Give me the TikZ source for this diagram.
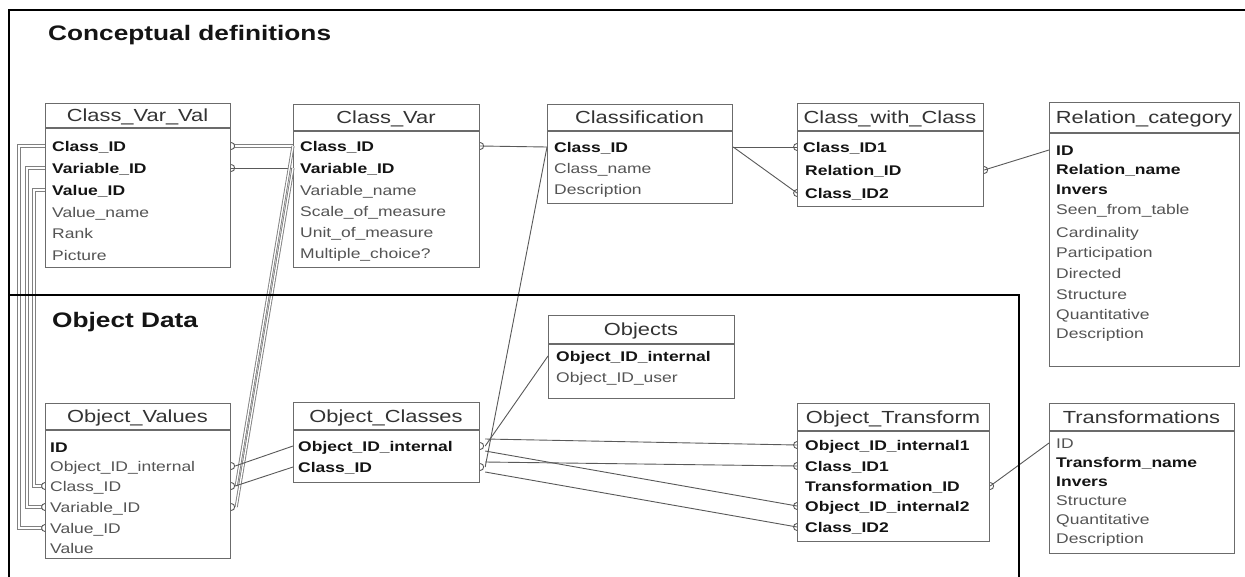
\documentclass[tikz,border=0pt]{standalone}
\usepackage{fontspec}
\setmainfont{Liberation Sans}[FakeStretch=1.25]
\usetikzlibrary{calc}
\definecolor{bord}{gray}{0.42}
\definecolor{lc}{gray}{0.35}
\definecolor{lc2}{gray}{0.5}
\definecolor{hd}{gray}{0.2}
\definecolor{rg}{gray}{0.33}
\definecolor{bd}{gray}{0.08}
\tikzset{
 tbox/.style={draw=bord,line width=1.2pt,inner sep=0pt,anchor=north west},
 hline/.style={draw=bord,line width=1.2pt},
 hdr/.style={font=\fontsize{17.5}{18}\selectfont,text=hd,inner sep=0pt,text height=12.5pt,text depth=0pt},
 rb/.style={font=\fontsize{14}{15}\selectfont\bfseries,text=bd,inner sep=0pt,anchor=west,text height=10pt,text depth=0pt},
 rr/.style={font=\fontsize{14}{15}\selectfont,text=rg,inner sep=0pt,anchor=west,text height=10pt,text depth=0pt},
 ttl/.style={font=\fontsize{21}{22}\selectfont\bfseries,text=bd,inner sep=0pt,anchor=west,text height=15pt,text depth=0pt},
 frame/.style={draw=black,line width=2pt},
 conn/.style={draw=lc,line width=0.9pt},
 dbl/.style={draw=lc2,line width=0.9pt,double=white,double distance=1.3pt},
 mk/.style={draw=lc,line width=0.9pt},
 mR/.pic={\draw[mk] (0,-3.5) .. controls (4.5,-3.5) and (4.5,3.5) .. (0,3.5);},
 mL/.pic={\draw[mk] (0,-3.5) .. controls (-4.5,-3.5) and (-4.5,3.5) .. (0,3.5);},
}
\begin{document}
\begin{tikzpicture}[x=1pt,y=-1pt]
\useasboundingbox[fill=white] (0,0) rectangle (1245,576);

% titles
\node[ttl] (t1) at (48,33) {Conceptual definitions};
\node[ttl] (t2) at (52,320) {Object Data};

% Class_Var_Val
\node[tbox,minimum width=185pt,minimum height=164pt] (cvv) at (45,103) {};
\draw[hline] (45,128) -- (230,128);
\node[hdr] (cvvh) at (137.5,115.5) {Class\_Var\_Val};
\node[rb] (cvv1) at (52,146) {Class\_ID};
\node[rb] (cvv2) at (52,168) {Variable\_ID};
\node[rb] (cvv3) at (52,190) {Value\_ID};
\node[rr] (cvv4) at (52,212) {Value\_name};
\node[rr] (cvv5) at (52,233) {Rank};
\node[rr] (cvv6) at (52,255) {Picture};

% Class_Var
\node[tbox,minimum width=186pt,minimum height=163pt] (cv) at (293,104) {};
\draw[hline] (293,131) -- (479,131);
\node[hdr] (cvh) at (386,117.5) {Class\_Var};
\node[rb] (cv1) at (300,146) {Class\_ID};
\node[rb] (cv2) at (300,168) {Variable\_ID};
\node[rr] (cv3) at (300,190) {Variable\_name};
\node[rr] (cv4) at (300,211) {Scale\_of\_measure};
\node[rr] (cv5) at (300,232) {Unit\_of\_measure};
\node[rr] (cv6) at (300,253) {Multiple\_choice?};

% Classification
\node[tbox,minimum width=185pt,minimum height=99pt] (cls) at (547,104) {};
\draw[hline] (547,131) -- (732,131);
\node[hdr] (clsh) at (639.5,117.5) {Classification};
\node[rb] (cls1) at (554,147) {Class\_ID};
\node[rr] (cls2) at (554,168) {Class\_name};
\node[rr] (cls3) at (554,189) {Description};

% Class_with_Class
\node[tbox,minimum width=186pt,minimum height=103pt] (cwc) at (797,103) {};
\draw[hline] (797,131) -- (983,131);
\node[hdr] (cwch) at (890,117) {Class\_with\_Class};
\node[rb] (cwc1) at (803,147) {Class\_ID1};
\node[rb] (cwc2) at (805,170) {Relation\_ID};
\node[rb] (cwc3) at (805,193) {Class\_ID2};

% Relation_category
\node[tbox,minimum width=190pt,minimum height=264pt] (rc) at (1049,102) {};
\draw[hline] (1049,133) -- (1239,133);
\node[hdr] (rch) at (1144,117.5) {Relation\_category};
\node[rb] (rc1) at (1056,150) {ID};
\node[rb] (rc2) at (1056,169) {Relation\_name};
\node[rb] (rc3) at (1056,189) {Invers};
\node[rr] (rc4) at (1056,209) {Seen\_from\_table};
\node[rr] (rc5) at (1056,232) {Cardinality};
\node[rr] (rc6) at (1056,252) {Participation};
\node[rr] (rc7) at (1056,273) {Directed};
\node[rr] (rc8) at (1056,294) {Structure};
\node[rr] (rc9) at (1056,314) {Quantitative};
\node[rr] (rc10) at (1056,333) {Description};

% Objects
\node[tbox,minimum width=186pt,minimum height=83pt] (obj) at (548,315) {};
\draw[hline] (548,344) -- (734,344);
\node[hdr] (objh) at (641,329.5) {Objects};
\node[rb] (obj1) at (556,356) {Object\_ID\_internal};
\node[rr] (obj2) at (556,377) {Object\_ID\_user};

% Object_Values
\node[tbox,minimum width=185pt,minimum height=155pt] (ov) at (45,403) {};
\draw[hline] (45,430) -- (230,430);
\node[hdr] (ovh) at (137.5,416.5) {Object\_Values};
\node[rb] (ov1) at (50,447) {ID};
\node[rr] (ov2) at (50,466) {Object\_ID\_internal};
\node[rr] (ov3) at (50,486) {Class\_ID};
\node[rr] (ov4) at (50,507) {Variable\_ID};
\node[rr] (ov5) at (50,528) {Value\_ID};
\node[rr] (ov6) at (50,548) {Value};

% Object_Classes
\node[tbox,minimum width=186pt,minimum height=80pt] (oc) at (293,402) {};
\draw[hline] (293,430) -- (479,430);
\node[hdr] (och) at (386,416) {Object\_Classes};
\node[rb] (oc1) at (298,446) {Object\_ID\_internal};
\node[rb] (oc2) at (298,467) {Class\_ID};

% Object_Transform
\node[tbox,minimum width=192pt,minimum height=138pt] (ot) at (797,403) {};
\draw[hline] (797,431) -- (989,431);
\node[hdr] (oth) at (893,417) {Object\_Transform};
\node[rb] (ot1) at (805,445) {Object\_ID\_internal1};
\node[rb] (ot2) at (805,466) {Class\_ID1};
\node[rb] (ot3) at (805,486) {Transformation\_ID};
\node[rb] (ot4) at (805,506) {Object\_ID\_internal2};
\node[rb] (ot5) at (805,527) {Class\_ID2};

% Transformations
\node[tbox,minimum width=185pt,minimum height=150pt] (tr) at (1049,403) {};
\draw[hline] (1049,431) -- (1234,431);
\node[hdr] (trh) at (1141.5,417) {Transformations};
\node[rr] (tr1) at (1056,443) {ID};
\node[rb] (tr2) at (1056,462) {Transform\_name};
\node[rb] (tr3) at (1056,481) {Invers};
\node[rr] (tr4) at (1056,500) {Structure};
\node[rr] (tr5) at (1056,519) {Quantitative};
\node[rr] (tr6) at (1056,538) {Description};

% ---- connectors: conceptual
\draw[dbl] ($(cvv.east|-cvv1)+(3,0)$) -- (cv.west|-cv1);
\draw[conn] (cvv.east|-cvv2) -- (cv.west|-cv2);
\pic at (cvv.east|-cvv1) {mR};
\pic at (cvv.east|-cvv2) {mR};
\draw[conn] (cv.east|-cv1) -- (cls.west|-cls1);
\pic at (cv.east|-cv1) {mR};
\draw[conn] (cls.east|-cls1) -- (cwc.west|-cwc1);
\draw[conn] (cls.east|-cls1) -- (cwc.west|-cwc3);
\pic at (cwc.west|-cwc1) {mL};
\pic at (cwc.west|-cwc3) {mL};
\draw[conn] (cwc.east|-cwc2) -- (rc.west|-rc1);
\pic at (cwc.east|-cwc2) {mR};

% ---- left routing Class_Var_Val -> Object_Values
\draw[dbl] (cvv.west|-cvv1) -- ++(-26,0) |- ($(ov.west|-ov5)+(-3,0)$);
\draw[dbl] (cvv.west|-cvv2) -- ++(-18,0) |- ($(ov.west|-ov4)+(-3,0)$);
\draw[dbl] (cvv.west|-cvv3) -- ++(-11,0) |- ($(ov.west|-ov3)+(-3,0)$);
\pic at (ov.west|-ov3) {mL};
\pic at (ov.west|-ov4) {mL};
\pic at (ov.west|-ov5) {mL};

% ---- Object_Values right side
\draw[dbl] ($(ov.east|-ov3)+(5,0)$) -- (cv.west|-cv1);
\draw[dbl] ($(ov.east|-ov4)+(5,0)$) -- (cv.west|-cv2);
\draw[conn] ($(ov.east|-ov2)+(4,0)$) -- (oc.west|-oc1);
\draw[conn] ($(ov.east|-ov3)+(4,0)$) -- (oc.west|-oc2);
\pic at (ov.east|-ov2) {mR};
\pic at (ov.east|-ov3) {mR};
\pic at (ov.east|-ov4) {mR};

% ---- Object_Classes right side
\draw[conn] ($(oc.east|-oc1)+(5,0)$) -- (obj.west|-obj1);
\draw[conn] ($(oc.east|-oc2)+(5,0)$) -- (cls.west|-cls1);
\draw[conn] ($(oc.east|-oc1)+(5,-7)$) -- (ot.west|-ot1);
\draw[conn] ($(oc.east|-oc1)+(5,5)$) -- (ot.west|-ot4);
\draw[conn] ($(oc.east|-oc2)+(5,-5)$) -- (ot.west|-ot2);
\draw[conn] ($(oc.east|-oc2)+(5,5)$) -- (ot.west|-ot5);
\pic at (oc.east|-oc1) {mR};
\pic at (oc.east|-oc2) {mR};
\pic at (ot.west|-ot1) {mL};
\pic at (ot.west|-ot2) {mL};
\pic at (ot.west|-ot4) {mL};
\pic at (ot.west|-ot5) {mL};

% ---- Object_Transform -> Transformations
\draw[conn] (ot.east|-ot3) -- (tr.west|-tr1);
\pic at (ot.east|-ot3) {mR};

% ---- frames
\draw[frame] (1245,10) -- (9,10) -- (9,577);
\draw[frame] (9,295) -- (1019,295) -- (1019,577);
\end{tikzpicture}
\end{document}
